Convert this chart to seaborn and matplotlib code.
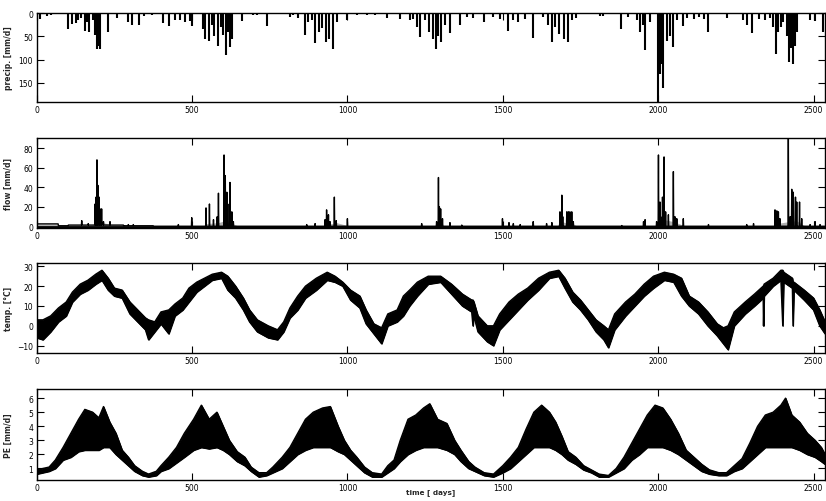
import numpy as np
import pandas as pd
import matplotlib
matplotlib.use("Agg")
import matplotlib.pyplot as plt
import seaborn as sns

# ---------------- data ----------------
N_DAYS = 2537

# precipitation events: day, mm/d
precip_day = [11, 32, 45, 70, 102, 113, 127, 134, 142, 156, 163, 170, 180, 188, 193, 198, 204,
              231, 257, 295, 306, 330, 345, 370, 408, 427, 445, 461, 477, 494, 501, 534, 542,
              553, 563, 571, 585, 592, 599, 609, 617, 622, 630, 660, 697, 708, 740, 815, 826,
              840, 864, 874, 885, 896, 907, 917, 931, 942, 955, 966, 998, 1030, 1062, 1089,
              1127, 1169, 1202, 1212, 1223, 1234, 1250, 1264, 1274, 1285, 1293, 1300, 1314,
              1330, 1362, 1384, 1405, 1438, 1470, 1491, 1518, 1534, 1550, 1572, 1598, 1631,
              1647, 1658, 1668, 1682, 1697, 1709, 1722, 1735, 1813, 1824, 1880, 1904, 1931,
              1942, 1950, 1958, 1974, 1998, 2006, 2012, 2017, 2028, 2038, 2049, 2060, 2081,
              2092, 2114, 2130, 2146, 2162, 2221, 2274, 2285, 2301, 2323, 2344, 2360, 2371,
              2380, 2387, 2395, 2403, 2414, 2421, 2428, 2434, 2441, 2448, 2489, 2505, 2530]
precip_mm = [13, 6, 5, 3, 34, 24, 22, 15, 10, 38, 20, 41, 15, 48, 77, 70, 77,
             41, 10, 20, 25, 25, 6, 5, 22, 27, 15, 15, 20, 18, 27, 35, 56,
             60, 25, 50, 70, 30, 48, 90, 40, 74, 55, 18, 5, 5, 27, 8, 5,
             10, 48, 20, 15, 65, 40, 32, 62, 55, 77, 20, 15, 5, 5, 4,
             10, 12, 15, 12, 30, 52, 15, 40, 55, 77, 50, 63, 25,
             42, 25, 8, 10, 20, 8, 12, 38, 15, 20, 12, 53, 8,
             25, 63, 30, 45, 55, 62, 15, 10, 6, 6, 35, 8, 15,
             40, 25, 80, 20, 192, 130, 110, 162, 60, 50, 72, 15, 28,
             10, 12, 8, 12, 40, 10, 15, 25, 42, 12, 15, 10, 30,
             88, 40, 30, 20, 50, 106, 75, 110, 70, 40, 15, 18, 40]

# observed flow: baseline segments (start day, value) and daily peaks
flow_base_day = [0, 70, 102, 280, 376]
flow_base_val = [2.7, 0.8, 1.5, 0.8, 0.3]
flow_peak_day = [145, 166, 188, 191, 194, 197, 201, 204, 209, 215, 236, 295, 311, 456, 499,
                 545, 556, 569, 581, 585, 603, 607, 612, 615, 622, 628, 633, 869, 896, 928,
                 933, 939, 944, 958, 964, 1000, 1239, 1287, 1293, 1296, 1300, 1306, 1330,
                 1368, 1499, 1520, 1534, 1556, 1598, 1641, 1658, 1684, 1690, 1693, 1706,
                 1711, 1716, 1722, 1727, 1883, 1953, 1958, 1995, 2001, 2006, 2008, 2014,
                 2019, 2024, 2033, 2049, 2054, 2060, 2081, 2162, 2285, 2307, 2376, 2382,
                 2387, 2392, 2419, 2425, 2430, 2435, 2442, 2446, 2455, 2462, 2489, 2505, 2521]
flow_peak_val = [6, 3, 23, 30, 68, 42, 30, 18, 18, 5, 5, 2, 2, 2, 9,
                 19, 23, 7, 10, 34, 73, 52, 35, 23, 45, 15, 5, 2, 3, 7,
                 17, 12, 5, 30, 6, 8, 3, 5, 50, 20, 18, 8, 4,
                 1.5, 8, 4, 3, 2, 5, 3, 4, 15, 32, 10, 15,
                 15, 15, 15, 5, 1, 5, 7, 5, 73, 25, 10, 30,
                 71, 15, 12, 56, 10, 8, 8, 2, 2, 3, 17, 16,
                 15, 8, 92, 10, 38, 35, 30, 25, 25, 8, 2, 5, 2]

# simulated flow (grey)
sim_day = [0, 70, 72, 102, 180, 190, 205, 225, 240, 279, 282, 535, 545, 585, 605, 630, 650,
           920, 930, 950, 965, 1000, 1010, 1280, 1290, 1300, 1315, 1675, 1685, 1700, 1725,
           1740, 1990, 2000, 2020, 2050, 2075, 2090, 2370, 2380, 2420, 2445, 2465, 2475, 2537]
sim_val = [2.5, 2.5, 1.5, 1.8, 1.8, 4, 5, 3, 2, 1.8, 0.3, 0.3, 3, 4, 6, 3, 0.3,
           0.3, 3, 3, 4, 1, 0.3, 0.3, 4, 3, 0.3, 0.3, 6, 4, 3,
           0.3, 0.3, 4, 7, 5, 2, 0.3, 0.3, 3, 5, 6, 2, 0.3, 0.3]

# temperature envelope (day, low, high)
temp_day = [0, 20, 45, 70, 95, 115, 140, 165, 190, 210, 230, 250, 275, 300, 325, 350, 360,
            380, 400, 425, 445, 470, 490, 515, 540, 565, 595, 615, 640, 665, 685, 710, 745,
            775, 795, 815, 840, 865, 900, 935, 960, 985, 1010, 1040, 1060, 1085, 1110, 1130,
            1160, 1180, 1200, 1225, 1260, 1300, 1335, 1370, 1400, 1404, 1407, 1420, 1450,
            1470, 1490, 1520, 1550, 1580, 1615, 1650, 1680, 1700, 1725, 1750, 1775, 1800,
            1825, 1840, 1860, 1895, 1925, 1955, 1985, 2020, 2050, 2075, 2100, 2130, 2160,
            2190, 2210, 2225, 2245, 2280, 2310, 2338, 2339, 2341, 2370, 2395, 2401, 2404,
            2432, 2434, 2437, 2470, 2500, 2520, 2537]
temp_lo = [-6, -7, -3, 2, 5, 12, 16, 18, 21, 23, 18, 15, 14, 6, 2, -2, -7,
           -3, 1, -4, 5, 8, 12, 17, 20, 23, 24, 18, 14, 8, 2, -3, -6,
           -7, -3, 4, 8, 14, 18, 23, 22, 20, 13, 9, 1, -4, -9, 0,
           2, 5, 10, 15, 21, 22, 16, 10, 7, 0, 5, -3, -8,
           -10, -2, 3, 8, 13, 18, 24, 25, 19, 12, 8, 3, -3,
           -7, -11, -2, 5, 10, 15, 19, 23, 22, 15, 10, 6, 0,
           -5, -9, -12, 0, 6, 10, 14, 0, 15, 20, 23, 0, 22,
           19, 0, 18, 13, 8, 0, -4]
temp_hi = [3, 3, 5, 9, 12, 17, 21, 23, 26, 28, 24, 19, 18, 12, 8, 4, 3,
           2, 7, 8, 11, 14, 19, 22, 24, 26, 27, 25, 20, 14, 8, 3, 0,
           -2, 2, 9, 15, 20, 24, 27, 25, 22, 18, 15, 8, 1, -1, 6,
           8, 15, 18, 22, 25, 25, 21, 16, 13, 13, 12, 5, 0,
           0, 6, 12, 16, 19, 24, 27, 28, 24, 17, 13, 8, 3,
           0, -2, 6, 12, 16, 21, 25, 27, 26, 24, 15, 12, 7,
           1, -1, 0, 7, 12, 16, 20, 20, 21, 24, 28, 28, 27,
           24, 22, 22, 18, 14, 8, 2]

# potential evaporation envelope (day, low, high)
pe_day = [0, 40, 60, 85, 110, 135, 155, 180, 200, 215, 235, 255, 275, 295, 315, 340, 360,
          385, 400, 425, 450, 475, 505, 530, 555, 580, 600, 620, 645, 670, 690, 715, 740,
          760, 790, 815, 840, 865, 890, 920, 945, 970, 990, 1010, 1030, 1055, 1080, 1110,
          1130, 1150, 1170, 1195, 1220, 1245, 1265, 1290, 1320, 1345, 1365, 1390, 1410,
          1440, 1470, 1500, 1525, 1550, 1575, 1600, 1625, 1650, 1670, 1690, 1710, 1735,
          1760, 1785, 1810, 1840, 1865, 1890, 1915, 1940, 1965, 1990, 2015, 2040, 2065,
          2090, 2115, 2140, 2165, 2195, 2220, 2245, 2270, 2295, 2320, 2345, 2370, 2395,
          2410, 2430, 2455, 2480, 2505, 2525, 2537]
pe_lo = [0.6, 0.8, 1.0, 1.6, 1.8, 2.2, 2.3, 2.3, 2.3, 2.5, 2.5, 2.0, 1.6, 1.2, 0.8, 0.5, 0.4,
         0.5, 0.8, 1.0, 1.4, 1.8, 2.3, 2.5, 2.4, 2.5, 2.3, 2.0, 1.5, 1.2, 0.8, 0.4, 0.5,
         0.7, 1.0, 1.5, 2.0, 2.3, 2.5, 2.5, 2.5, 2.2, 2.0, 1.6, 1.2, 0.7, 0.4, 0.4,
         0.7, 1.0, 1.5, 2.0, 2.3, 2.5, 2.5, 2.5, 2.3, 2.0, 1.5, 1.0, 0.8,
         0.5, 0.4, 0.7, 1.0, 1.5, 2.0, 2.5, 2.5, 2.5, 2.3, 2.0, 1.6, 1.3,
         0.9, 0.7, 0.4, 0.4, 0.7, 1.0, 1.6, 2.0, 2.5, 2.5, 2.5, 2.3, 2.0,
         1.6, 1.2, 0.8, 0.6, 0.5, 0.5, 0.8, 1.0, 1.5, 2.0, 2.5, 2.5, 2.5,
         2.5, 2.5, 2.3, 2.0, 1.8, 1.5, 1.3]
pe_hi = [0.9, 1.1, 1.6, 2.5, 3.5, 4.5, 5.2, 5.0, 4.6, 5.4, 4.3, 3.5, 2.3, 1.8, 1.2, 0.8, 0.6,
         0.8, 1.2, 1.8, 2.5, 3.5, 4.5, 5.5, 4.5, 5.0, 4.0, 3.0, 2.2, 1.8, 1.1, 0.7, 0.7,
         1.1, 1.8, 2.5, 3.5, 4.5, 5.0, 5.3, 5.4, 4.0, 3.0, 2.3, 1.8, 1.1, 0.7, 0.6,
         1.2, 1.6, 3.0, 4.5, 4.8, 5.3, 5.6, 4.5, 4.2, 3.0, 2.3, 1.5, 1.1,
         0.7, 0.6, 1.2, 1.8, 2.5, 3.8, 5.0, 5.5, 5.0, 4.3, 3.3, 2.2, 1.8,
         1.2, 0.9, 0.6, 0.5, 1.0, 1.8, 2.8, 3.8, 4.8, 5.5, 5.3, 4.5, 3.5,
         2.3, 1.8, 1.3, 0.9, 0.7, 0.7, 1.2, 1.7, 2.8, 4.0, 4.8, 5.0, 5.5,
         6.0, 4.8, 4.3, 3.5, 3.0, 2.5, 2.0]

x_ticks = [0, 500, 1000, 1500, 2000, 2500]

# ---------------- figure ----------------
sns.set_style("ticks")
plt.rcParams["font.family"] = ["DejaVu Sans"]
fig = plt.figure(figsize=(8.26, 5.02), dpi=100)

left, width = 0.0444, 0.9544
boxes = [(0.7948, 0.1773), (0.5438, 0.1787), (0.2948, 0.1787), (0.0424, 0.1807)]
axes = [fig.add_axes([left, b, width, h]) for b, h in boxes]

for ax in axes:
    ax.set_xlim(0, N_DAYS)
    ax.set_xticks(x_ticks)
    ax.tick_params(direction="in", length=5, width=0.8, labelsize=5.5,
                   top=True, right=True, pad=2.5, colors="black")
    for s in ax.spines.values():
        s.set_linewidth(1.0)
        s.set_color("black")

# precip
ax = axes[0]
ax.vlines(precip_day, 0, precip_mm, color="black", linewidth=1.5)
ax.set_ylim(191, 0)
ax.set_yticks([0, 50, 100, 150])
ax.set_ylabel("precip. [mm/d]", fontsize=5.5, fontweight="bold")

# flow
ax = axes[1]
days = np.arange(N_DAYS)
flow = np.zeros(N_DAYS)
for i, d in enumerate(flow_base_day):
    flow[d:] = flow_base_val[i]
flow[np.array(flow_peak_day)] = flow_peak_val
ax.fill_between(sim_day, 0, sim_val, color="#b0b0b0", linewidth=0, zorder=1)
sns.lineplot(x=days, y=flow, ax=ax, color="black", linewidth=1.0, zorder=2)
ax.axhline(0, color="black", linewidth=2.0, zorder=3)
ax.set_ylim(-1.5, 90)
ax.set_yticks([0, 20, 40, 60, 80])
ax.set_ylabel("flow [mm/d]", fontsize=5.5, fontweight="bold")

# temperature
ax = axes[2]
ax.fill_between(temp_day, temp_lo, temp_hi, color="black", linewidth=0.8)
sns.lineplot(x=temp_day, y=temp_hi, ax=ax, color="black", linewidth=1.0)
sns.lineplot(x=temp_day, y=temp_lo, ax=ax, color="black", linewidth=1.0)
ax.set_ylim(-13.7, 31.5)
ax.set_yticks([-10, 0, 10, 20, 30])
ax.set_ylabel("temp. [°C]", fontsize=5.5, fontweight="bold")

# PE
ax = axes[3]
ax.fill_between(pe_day, pe_lo, pe_hi, color="black", linewidth=0.8)
sns.lineplot(x=pe_day, y=pe_hi, ax=ax, color="black", linewidth=1.0)
sns.lineplot(x=pe_day, y=pe_lo, ax=ax, color="black", linewidth=1.0)
ax.set_ylim(0.2, 6.65)
ax.set_yticks([1, 2, 3, 4, 5, 6])
ax.set_ylabel("PE [mm/d]", fontsize=5.5, fontweight="bold")

for ax in axes[:3]:
    ax.set_xlabel("")
axes[3].set_xlabel("time [ days]", fontsize=5.2, fontweight="bold")
axes[3].xaxis.set_label_coords(0.5, -0.095)
for ax in axes:
    ax.yaxis.set_label_coords(-0.030, 0.5)

fig.savefig("out.png", dpi=100)
